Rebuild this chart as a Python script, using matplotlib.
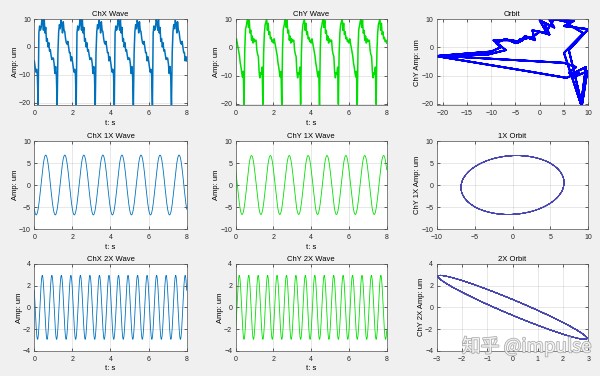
import numpy as np
from matplotlib import pyplot as plt
import matplotlib.patheffects as pe

plt.rcParams['font.family'] = ['Liberation Sans', 'Noto Sans CJK SC', 'DejaVu Sans']

# raw signals: two slightly different 1 s cycles (0.04 s steps),
# alternating over the 8 s record
raw_x_cycle_a = [-5, -7, -9, -8, -10, -20.8, 5, 7.5, 6, 7, 9.8, 8.7, 6, 10, 5, 7, 2, 3, 0, 1.5,
	-1.5, -1, -3, -4.5, -4]
raw_y_cycle_a = [1.5, 3, 1.5, 0, -1.5, -3, -5.5, -7, -9, -10.5, -8.5, -20.4, -1, 6.4, 7.5, 9.3, 9.8,
	7, 9.5, 5, 6, 2.5, 4, 1.5, 3]
raw_x_cycle_b = [-4, -6, -9.5, -7, -10.5, -21, -2, 5.5, 8, 6.5, 9.5, 8.5, 5, 9, 6, 5.5, 3, 1.5, 1, 2,
	0, -2, -2, -5, -3.5]
raw_y_cycle_b = [2, 2.5, 2.5, -1, -2.5, -3.2, -8.6, -10.8, -9, -9.5, -7, -20.2, -2, 5, 8, 9, 10, 6,
	8.5, 4.5, 5.5, 3, 3.5, 2, 2.5]
n_periods = 8
step = 0.04

# harmonic components: amplitude (um), frequency (Hz), time of first peak (s)
x1_amp, x1_freq, x1_peak = 6.8, 1.0, 0.60
y1_amp, y1_freq, y1_peak = 6.7, 1.0, 0.837
x2_amp, x2_freq, x2_peak = 2.95, 2.0, 0.42
y2_amp, y2_freq, y2_peak = 2.95, 2.0, 0.19

raw_x = np.array((raw_x_cycle_a + raw_x_cycle_b) * (n_periods // 2) + raw_x_cycle_a[:1])
raw_y = np.array((raw_y_cycle_a + raw_y_cycle_b) * (n_periods // 2) + raw_y_cycle_a[:1])
t_raw = np.arange(len(raw_x)) * step

t = np.linspace(0, 8, 1601)
x1 = x1_amp * np.cos(2 * np.pi * x1_freq * (t - x1_peak))
y1 = y1_amp * np.cos(2 * np.pi * y1_freq * (t - y1_peak))
x2 = x2_amp * np.cos(2 * np.pi * x2_freq * (t - x2_peak))
y2 = y2_amp * np.cos(2 * np.pi * y2_freq * (t - y2_peak))

blue = '#0072BD'
green = '#00E000'
dark = '#262626'
fs_tick = 5
fs_lab = 5.5

fig = plt.figure(figsize=(6, 3.76), dpi=100, facecolor='#f0f0f0')

cols = [(34.3, 186.7), (235.7, 386.7), (436.7, 588.3)]
rows = [(19, 105.3), (141, 229), (264, 350.7)]


def make_ax(r, c):
	l, rr = cols[c]
	tp, bt = rows[r]
	ax = fig.add_axes([l / 600, 1 - bt / 376, (rr - l) / 600, (bt - tp) / 376])
	ax.set_facecolor('white')
	for s in ax.spines.values():
		s.set_color('#555555')
		s.set_linewidth(0.5)
	ax.tick_params(direction='in', length=2, width=0.5, colors=dark, labelsize=fs_tick,
		top=True, right=True)
	ax.tick_params(axis='x', pad=3.5)
	ax.tick_params(axis='y', pad=2.5)
	ax.grid(True, color=dark, alpha=0.15, linewidth=0.5)
	ax.set_axisbelow(True)
	return ax


def wave_ax(ax, title, ylim, yticks):
	ax.set_xlim(0, 8)
	ax.set_xticks([0, 2, 4, 6, 8])
	ax.set_ylim(*ylim)
	ax.set_yticks(yticks)
	ax.set_title(title, fontsize=fs_lab, pad=2.5, color='black')
	ax.set_xlabel('t: s', fontsize=fs_lab, labelpad=2)
	ax.set_ylabel('Amp: um', fontsize=fs_lab, labelpad=0)


ax = make_ax(0, 0)
ax.plot(t_raw, raw_x, color=blue, lw=1.1)
wave_ax(ax, 'ChX Wave', (-20.9, 10), [-20, -10, 0, 10])

ax = make_ax(0, 1)
ax.plot(t_raw, raw_y, color=green, lw=1.1)
wave_ax(ax, 'ChY Wave', (-20.5, 10), [-20, -10, 0, 10])

ax = make_ax(0, 2)
ax.plot(raw_x, raw_y, color='#0000FF', lw=1.3)
ax.set_xlim(-21.2, 10)
ax.set_ylim(-20.5, 10)
ax.set_xticks([-20, -15, -10, -5, 0, 5, 10])
ax.set_yticks([-20, -10, 0, 10])
ax.set_title('Orbit', fontsize=fs_lab, pad=2.5)
ax.set_ylabel('ChY Amp: um', fontsize=fs_lab, labelpad=0)

ax = make_ax(1, 0)
ax.plot(t, x1, color=blue, lw=0.6)
wave_ax(ax, 'ChX 1X Wave', (-10, 10), [-10, -5, 0, 5, 10])

ax = make_ax(1, 1)
ax.plot(t, y1, color=green, lw=0.6)
wave_ax(ax, 'ChY 1X Wave', (-10, 10), [-10, -5, 0, 5, 10])

ax = make_ax(1, 2)
ax.plot(x1, y1, color='#4848B0', lw=0.6)
ax.set_xlim(-10, 10)
ax.set_ylim(-10, 10)
ax.set_xticks([-10, -5, 0, 5, 10])
ax.set_yticks([-10, -5, 0, 5, 10])
ax.set_title('1X Orbit', fontsize=fs_lab, pad=2.5)
ax.set_ylabel('ChY 1X Amp: um', fontsize=fs_lab, labelpad=0)

ax = make_ax(2, 0)
ax.plot(t, x2, color=blue, lw=0.6)
wave_ax(ax, 'ChX 2X Wave', (-4, 4), [-4, -2, 0, 2, 4])

ax = make_ax(2, 1)
ax.plot(t, y2, color=green, lw=0.6)
wave_ax(ax, 'ChY 2X Wave', (-4, 4), [-4, -2, 0, 2, 4])

ax = make_ax(2, 2)
ax.plot(x2, y2, color='#4848B0', lw=0.6)
ax.set_xlim(-3, 3)
ax.set_ylim(-4, 4)
ax.set_xticks([-3, -2, -1, 0, 1, 2, 3])
ax.set_yticks([-4, -2, 0, 2, 4])
ax.set_title('2X Orbit', fontsize=fs_lab, pad=2.5)
ax.set_ylabel('ChY 2X Amp: um', fontsize=fs_lab, labelpad=0)

# watermark
fig.text(0.878, 0.078, '知乎 @impulse', fontsize=13.5, color='white', alpha=0.85,
	ha='center', va='center', family=['Noto Sans CJK SC', 'DejaVu Sans'],
	path_effects=[pe.withStroke(linewidth=1.2, foreground='#a0a0a0')])

fig.savefig('out.png', dpi=100, facecolor=fig.get_facecolor())
